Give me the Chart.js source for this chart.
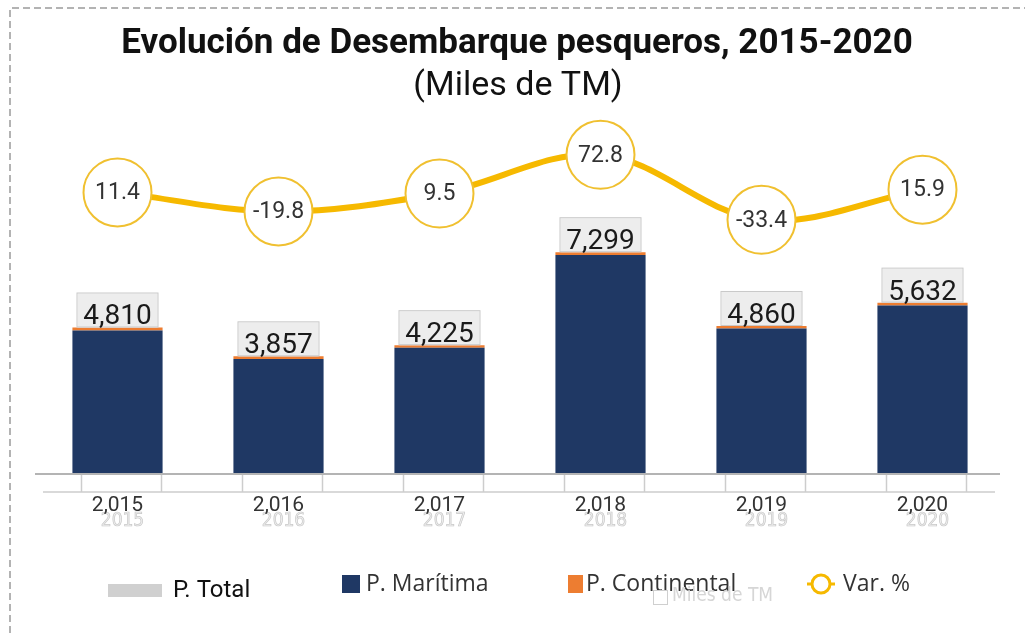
<!DOCTYPE html>
<html>
<head>
<meta charset="utf-8">
<script src="https://cdn.jsdelivr.net/npm/chart.js@4.4.0/dist/chart.umd.min.js"></script>
<style>
  html, body { margin: 0; padding: 0; background: #fff; }
  canvas { display: block; }
</style>
</head>
<body>
<canvas id="desembarqueChart" width="1025" height="633"></canvas>
<script>
// Datos (miles de TM)
const yearLabels = ['2,015', '2,016', '2,017', '2,018', '2,019', '2,020'];
const yearGhost = ['2015', '2016', '2017', '2018', '2019', '2020'];
const totals = [4810, 3857, 4225, 7299, 4860, 5632];
const maritima = [4714, 3767, 4137, 7205, 4774, 5539];
const continental = [96, 90, 88, 94, 86, 93];
const variacion = [11.4, -19.8, 9.5, 72.8, -33.4, 15.9];

const titleText = 'Evolución de Desembarque pesqueros, 2015-2020';
const subtitleText = '(Miles de TM)';

const NAVY = '#1f3864';
const ORANGE = '#ed7d31';
const GOLD = '#f6b900';

const fmt = v => v.toLocaleString('en-US');

// Everything the library doesn't draw by itself: frame, title, axis, labels, legend
const deco = {
  id: 'deco',
  beforeDraw(chart) {
    const ctx = chart.ctx;
    ctx.save();
    ctx.fillStyle = '#fff';
    ctx.fillRect(0, 0, chart.width, chart.height);

    // dashed frame
    ctx.strokeStyle = '#9a9a9a';
    ctx.lineWidth = 1.5;
    ctx.setLineDash([7, 4]);
    ctx.beginPath();
    ctx.moveTo(10, chart.height);
    ctx.lineTo(10, 8);
    ctx.lineTo(chart.width, 8);
    ctx.stroke();
    ctx.setLineDash([]);

    // title
    ctx.fillStyle = '#111';
    ctx.textAlign = 'center';
    ctx.textBaseline = 'alphabetic';
    ctx.font = 'bold 35px Roboto';
    ctx.fillText(titleText, 517, 53);
    ctx.font = '34px Roboto';
    ctx.fillText(subtitleText, 518, 95);
    ctx.restore();
  },
  beforeDatasetsDraw(chart) {
    const ctx = chart.ctx;
    const area = chart.chartArea;
    const x = chart.scales.x;
    ctx.save();
    // axis lines
    ctx.strokeStyle = '#b4b4b4';
    ctx.lineWidth = 2;
    ctx.beginPath();
    ctx.moveTo(35, area.bottom + 1);
    ctx.lineTo(1000, area.bottom + 1);
    ctx.stroke();
    ctx.strokeStyle = '#cdcdcd';
    ctx.lineWidth = 1.5;
    ctx.beginPath();
    ctx.moveTo(43, area.bottom + 19);
    ctx.lineTo(995, area.bottom + 19);
    yearLabels.forEach((_, i) => {
      const cx = x.getPixelForValue(i);
      ctx.moveTo(cx - 36, area.bottom + 2);
      ctx.lineTo(cx - 36, area.bottom + 19);
      ctx.moveTo(cx + 44, area.bottom + 2);
      ctx.lineTo(cx + 44, area.bottom + 19);
    });
    ctx.stroke();

    // tick labels + faded duplicates
    ctx.textAlign = 'center';
    ctx.textBaseline = 'middle';
    yearLabels.forEach((lab, i) => {
      const cx = x.getPixelForValue(i);
      ctx.font = '19px "DejaVu Sans Condensed", "Liberation Sans Narrow", sans-serif';
      ctx.fillStyle = '#f0f0f0';
      ctx.fillText(yearGhost[i], cx + 5, area.bottom + 48);
      ctx.strokeStyle = '#c8c8c8';
      ctx.lineWidth = 0.7;
      ctx.strokeText(yearGhost[i], cx + 5, area.bottom + 48);
      ctx.font = '21px Roboto';
      ctx.fillStyle = '#333';
      ctx.fillText(lab, cx, area.bottom + 33);
    });
    ctx.restore();
  },
  afterDatasetsDraw(chart) {
    const ctx = chart.ctx;
    const y = chart.scales.y;
    const x = chart.scales.x;
    ctx.save();
    ctx.textAlign = 'center';

    // total labels in grey boxes
    totals.forEach((t, i) => {
      const cx = x.getPixelForValue(i);
      const top = y.getPixelForValue(t);
      ctx.fillStyle = 'rgba(236,236,236,0.95)';
      ctx.fillRect(cx - 40, top - 34, 80, 34);
      ctx.strokeStyle = '#c9c9c9';
      ctx.lineWidth = 1;
      ctx.strokeRect(cx - 40.5, top - 34.5, 81, 34);
      ctx.fillStyle = '#1a1a1a';
      ctx.font = '28px Roboto';
      ctx.textBaseline = 'alphabetic';
      ctx.fillText(fmt(t), cx, top - 3);
    });

    // var % labels inside circles
    const lineMeta = chart.getDatasetMeta(0);
    ctx.font = '23px Roboto';
    ctx.fillStyle = '#333';
    ctx.textBaseline = 'middle';
    lineMeta.data.forEach((pt, i) => {
      ctx.fillText(variacion[i].toFixed(1), pt.x, pt.y + 1);
    });
    ctx.restore();
  },
  afterDraw(chart) {
    const ctx = chart.ctx;
    const ds = chart.data.datasets;
    ctx.save();
    ctx.textBaseline = 'middle';
    ctx.textAlign = 'left';

    // P. Total
    ctx.fillStyle = '#d0d0d0';
    ctx.fillRect(108, 584, 54, 13);
    ctx.fillStyle = '#111';
    ctx.font = '24px Roboto';
    ctx.fillText('P. Total', 173, 591);

    ctx.font = '23px "Open Sans", Lato, sans-serif';
    // P. Marítima
    ctx.fillStyle = ds[1].backgroundColor;
    ctx.fillRect(342, 575, 18, 18);
    ctx.fillStyle = '#333';
    ctx.fillText(ds[1].label, 366, 584);
    // P. Continental
    ctx.fillStyle = ds[2].backgroundColor;
    ctx.fillRect(568, 575, 15, 18);
    ctx.fillStyle = '#333';
    ctx.fillText(ds[2].label, 586, 584);

    // faded "Miles de TM"
    ctx.strokeStyle = '#cfcfcf';
    ctx.lineWidth = 1;
    ctx.strokeRect(653.5, 590.5, 14, 14);
    ctx.fillStyle = '#d6d6d6';
    ctx.font = '19px "DejaVu Sans Condensed", sans-serif';
    ctx.fillText('Miles de TM', 672, 596);

    // Var. %
    ctx.strokeStyle = GOLD;
    ctx.lineWidth = 3;
    ctx.beginPath();
    ctx.moveTo(807, 584);
    ctx.lineTo(835, 584);
    ctx.stroke();
    ctx.beginPath();
    ctx.arc(821, 584, 9, 0, Math.PI * 2);
    ctx.fillStyle = '#fff';
    ctx.fill();
    ctx.stroke();
    ctx.fillStyle = '#333';
    ctx.font = '23px "Open Sans", Lato, sans-serif';
    ctx.fillText(ds[0].label, 843, 584);
    ctx.restore();
  }
};

new Chart(document.getElementById('desembarqueChart'), {
  type: 'bar',
  data: {
    labels: yearLabels,
    datasets: [
      {
        type: 'line',
        label: 'Var. %',
        data: variacion,
        yAxisID: 'y2',
        borderColor: GOLD,
        borderWidth: 6,
        tension: 0.35,
        pointRadius: 34,
        pointBackgroundColor: '#fff',
        pointBorderColor: '#f0c030',
        pointBorderWidth: 2,
        order: 0,
      },
      {
        label: 'P. Marítima',
        data: maritima,
        backgroundColor: NAVY,
        stack: 'prod',
        order: 1,
      },
      {
        label: 'P. Continental',
        data: continental,
        backgroundColor: ORANGE,
        stack: 'prod',
        order: 1,
      },
    ],
  },
  options: {
    responsive: false,
    animation: false,
    layout: { autoPadding: false, padding: { left: 37, right: 22, top: 110, bottom: 160 } },
    datasets: { bar: { categoryPercentage: 1, barPercentage: 0.56 } },
    scales: {
      x: { display: false, stacked: true },
      y: { display: false, stacked: true, min: 0, max: 12000 },
      y2: { display: false, min: -447, max: 146 },
    },
    plugins: {
      legend: { display: false },
      tooltip: { enabled: false },
    },
  },
  plugins: [deco],
});
</script>
</body>
</html>
